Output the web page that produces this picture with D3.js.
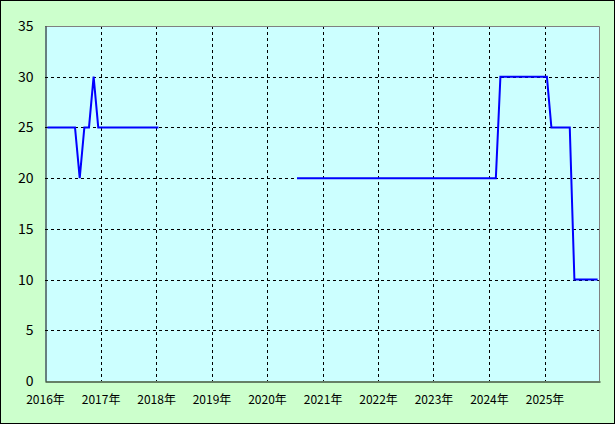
<!DOCTYPE html>
<html>
<head>
<meta charset="utf-8">
<script src="https://cdn.jsdelivr.net/npm/d3@7"></script>
<style>
  body { margin: 0; background: #fff; }
  svg { display: block; }
  .tick text { font-family: "Noto Sans CJK JP", "DejaVu Sans", sans-serif; fill: #000; }
</style>
</head>
<body>
<svg id="chart" width="615" height="424"></svg>
<script>
// monthly values, Jan 2016 .. Dec 2025 (null = no data)
var startMonth = "2016-01";
var values2016 = [25, 25, 25, 25, 25, 25, 25, 20, 25, 25, 30, 25];
var values2017 = [25, 25, 25, 25, 25, 25, 25, 25, 25, 25, 25, 25];
var values2018 = [25, null, null, null, null, null, null, null, null, null, null, null];
var values2019 = [null, null, null, null, null, null, null, null, null, null, null, null];
var values2020 = [null, null, null, null, null, null, 20, 20, 20, 20, 20, 20];
var values2021 = [20, 20, 20, 20, 20, 20, 20, 20, 20, 20, 20, 20];
var values2022 = [20, 20, 20, 20, 20, 20, 20, 20, 20, 20, 20, 20];
var values2023 = [20, 20, 20, 20, 20, 20, 20, 20, 20, 20, 20, 20];
var values2024 = [20, 20, 30, 30, 30, 30, 30, 30, 30, 30, 30, 30];
var values2025 = [30, 25, 25, 25, 25, 25, 10, 10, 10, 10, 10, 10];

var yearTicks = [2016, 2017, 2018, 2019, 2020, 2021, 2022, 2023, 2024, 2025];
var yTicks = [0, 5, 10, 15, 20, 25, 30, 35];

var svg = d3.select("#chart");
var margin = { top: 26, right: 15, bottom: 43, left: 45 };
var width = 615, height = 424;

// background + outer border
svg.append("rect")
  .attr("x", 0.5).attr("y", 0.5)
  .attr("width", width - 1).attr("height", height - 1)
  .attr("fill", "#ccffcc")
  .attr("stroke", "#000");

var parseMonth = d3.timeParse("%Y-%m");
var start = parseMonth(startMonth);
var allValues = [].concat(values2016, values2017, values2018, values2019, values2020,
                          values2021, values2022, values2023, values2024, values2025);

// each value sits in the middle of its month
var data = allValues.map(function(v, i) {
  var m0 = d3.timeMonth.offset(start, i);
  var m1 = d3.timeMonth.offset(start, i + 1);
  return { date: new Date((+m0 + +m1) / 2), value: v };
});

var xScale = d3.scaleTime()
  .domain([new Date(2016, 0, 1), new Date(2026, 0, 1)])
  .range([margin.left, width - margin.right]);
var yScale = d3.scaleLinear()
  .domain([0, 35])
  .range([height - margin.bottom, margin.top]);

// plot area
svg.append("rect")
  .attr("x", margin.left).attr("y", margin.top)
  .attr("width", width - margin.left - margin.right)
  .attr("height", height - margin.top - margin.bottom)
  .attr("fill", "#ccffff");

// grid lines
svg.append("g")
  .selectAll("line")
  .data(yTicks.filter(function(d) { return d > 0 && d < 35; }))
  .join("line")
  .attr("x1", margin.left).attr("x2", width - margin.right)
  .attr("y1", function(d) { return Math.round(yScale(d)) + 0.5; })
  .attr("y2", function(d) { return Math.round(yScale(d)) + 0.5; })
  .attr("stroke", "#000")
  .attr("stroke-dasharray", "3,3");

svg.append("g")
  .selectAll("line")
  .data(yearTicks.slice(1))
  .join("line")
  .attr("x1", function(d) { return Math.round(xScale(new Date(d, 0, 1))) + 0.5; })
  .attr("x2", function(d) { return Math.round(xScale(new Date(d, 0, 1))) + 0.5; })
  .attr("y1", margin.top).attr("y2", height - margin.bottom)
  .attr("stroke", "#000")
  .attr("stroke-dasharray", "3,3");

// top and right plot border (grey)
svg.append("path")
  .attr("d", "M" + margin.left + "," + (margin.top + 0.5) +
             "H" + (width - margin.right - 0.5) +
             "V" + (height - margin.bottom))
  .attr("fill", "none")
  .attr("stroke", "#808080");

// axes
var yAxis = d3.axisLeft(yScale).tickValues(yTicks).tickSize(0).tickPadding(12);
svg.append("g")
  .attr("transform", "translate(" + (margin.left + 0.5) + ",0)")
  .call(yAxis)
  .call(function(g) { g.selectAll(".tick text").style("font-size", "14px"); })
  .call(function(g) { g.select(".domain").attr("stroke", "#000"); });

var xAxis = d3.axisBottom(xScale)
  .tickValues(yearTicks.map(function(y) { return new Date(y, 0, 1); }))
  .tickSize(0).tickPadding(14)
  .tickFormat(function(d) { return d.getFullYear() + "年"; });
svg.append("g")
  .attr("transform", "translate(0," + (height - margin.bottom + 0.5) + ")")
  .call(xAxis)
  .call(function(g) { g.selectAll(".tick text").style("font-size", "12px"); })
  .call(function(g) { g.select(".domain").attr("stroke", "#000"); });

// the line
var valueline = d3.line()
  .defined(function(d) { return d.value !== null; })
  .x(function(d) { return xScale(d.date); })
  .y(function(d) { return yScale(d.value); });

svg.append("path")
  .datum(data)
  .attr("fill", "none")
  .attr("stroke", "#0000ff")
  .attr("stroke-width", 2)
  .attr("d", valueline);
</script>
</body>
</html>
